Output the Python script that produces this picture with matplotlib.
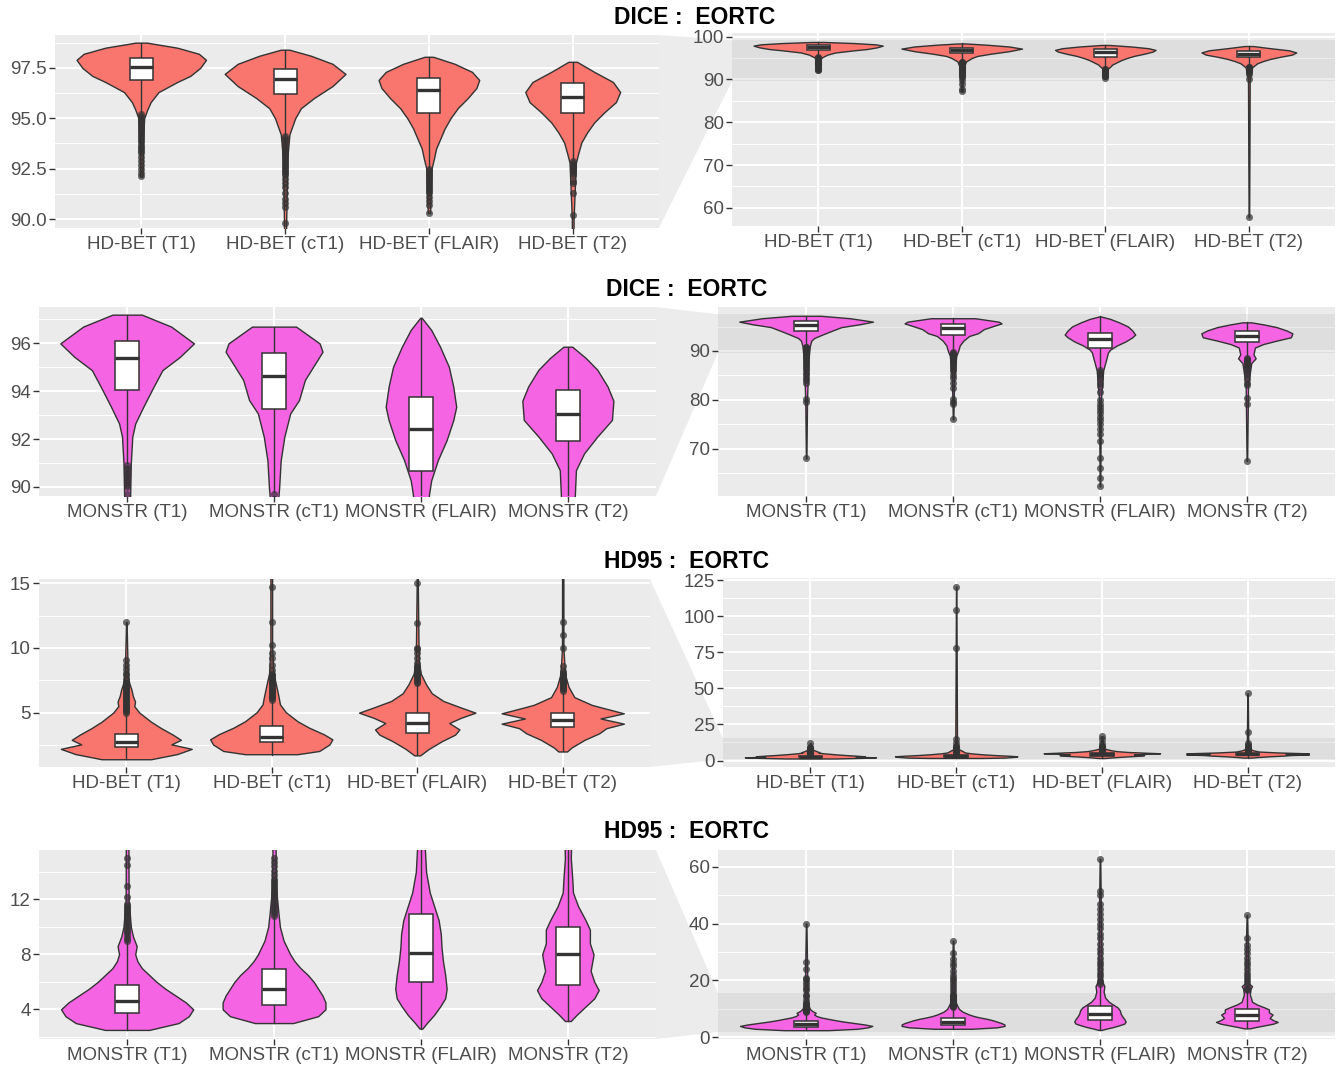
import numpy as np
import matplotlib
matplotlib.use("Agg")
import matplotlib.pyplot as plt
from matplotlib.patches import Polygon, Rectangle

plt.rcParams['font.family'] = ['Liberation Sans', 'DejaVu Sans']

# ---------------- DATA ----------------
titles = ["DICE :  EORTC", "DICE :  EORTC", "HD95 :  EORTC", "HD95 :  EORTC"]
cats_hdbet = ["HD-BET (T1)", "HD-BET (cT1)", "HD-BET (FLAIR)", "HD-BET (T2)"]
cats_monstr = ["MONSTR (T1)", "MONSTR (cT1)", "MONSTR (FLAIR)", "MONSTR (T2)"]
color_hdbet = "#F8766D"
color_monstr = "#F564E3"

# Row 1: HD-BET DICE --- violin outlines (value levels, half widths)
dice_hdbet_vy = [
    [92.1, 94.0, 95.0, 95.4, 95.8, 96.3, 96.8, 97.1, 97.5, 97.9, 98.2, 98.5, 98.75],
    [87.2, 90.0, 93.0, 94.2, 94.5, 95.0, 95.5, 96.0, 96.6, 97.2, 97.7, 98.1, 98.4],
    [90.3, 92.5, 93.0, 93.5, 94.0, 94.5, 95.0, 95.5, 96.0, 96.5, 96.9, 97.3, 97.7, 98.05],
    [57.8, 90.0, 92.8, 93.3, 93.8, 94.3, 94.8, 95.3, 95.8, 96.3, 96.8, 97.3, 97.8],
]
dice_hdbet_vw = [
    [0.008, 0.012, 0.02, 0.04, 0.065, 0.12, 0.25, 0.34, 0.41, 0.45, 0.40, 0.25, 0.04],
    [0.004, 0.008, 0.015, 0.03, 0.045, 0.07, 0.11, 0.2, 0.33, 0.42, 0.33, 0.18, 0.03],
    [0.008, 0.018, 0.035, 0.05, 0.08, 0.11, 0.15, 0.2, 0.27, 0.33, 0.35, 0.30, 0.18, 0.03],
    [0.002, 0.006, 0.022, 0.04, 0.06, 0.1, 0.15, 0.22, 0.30, 0.33, 0.28, 0.15, 0.03],
]
dice_hdbet_q1 = [96.9, 96.2, 95.25, 95.25]
dice_hdbet_med = [97.55, 96.95, 96.4, 96.05]
dice_hdbet_q3 = [98.0, 97.45, 97.0, 96.75]
dice_hdbet_wlo = [95.3, 94.2, 92.6, 93.0]
dice_hdbet_whi = [98.75, 98.4, 98.05, 97.8]
dice_hdbet_out = [
    [95.2, 95.1, 95.0, 94.9, 94.8, 94.7, 94.6, 94.5, 94.4, 94.3, 94.2, 94.1, 94.0, 93.9,
     93.8, 93.7, 93.6, 93.5, 93.4, 93.3, 93.1, 92.9, 92.7, 92.5, 92.3, 92.15],
    [94.1, 94.0, 93.9, 93.8, 93.7, 93.6, 93.5, 93.4, 93.3, 93.2, 93.1, 93.0, 92.9, 92.8,
     92.7, 92.6, 92.5, 92.4, 92.3, 92.2, 92.0, 91.8, 91.6, 91.3, 91.0, 90.8, 90.6, 89.8,
     89.0, 87.8, 87.3],
    [92.5, 92.4, 92.3, 92.2, 92.1, 92.0, 91.9, 91.8, 91.7, 91.6, 91.5, 91.4, 91.3, 91.1,
     90.9, 90.7, 90.3],
    [92.9, 92.8, 92.7, 92.6, 92.5, 92.4, 92.3, 92.2, 91.9, 91.8, 91.3, 90.2, 57.8],
]

# Row 2: MONSTR DICE
dice_monstr_vy = [
    [68.0, 80.0, 88.0, 91.0, 92.1, 92.65, 93.35, 94.19, 94.88, 95.44, 96.0, 96.7, 97.2],
    [76.0, 85.0, 89.0, 90.0, 91.1, 92.1, 93.07, 93.63, 94.47, 95.16, 95.65, 96.0, 96.7],
    [62.3, 80.0, 86.0, 88.0, 89.7, 90.28, 91.12, 91.96, 92.79, 93.35, 94.19, 95.02,
     95.86, 96.56, 97.07],
    [67.5, 83.0, 87.5, 88.5, 89.3, 90.0, 90.7, 91.4, 92.1, 92.8, 93.6, 94.2, 94.9, 95.4,
     95.86],
]
dice_monstr_vw = [
    [0.002, 0.006, 0.015, 0.025, 0.035, 0.055, 0.11, 0.18, 0.24, 0.36, 0.455, 0.30, 0.10],
    [0.002, 0.008, 0.022, 0.035, 0.045, 0.07, 0.11, 0.17, 0.21, 0.28, 0.33, 0.31, 0.15],
    [0.002, 0.006, 0.022, 0.04, 0.055, 0.07, 0.115, 0.175, 0.22, 0.24, 0.22, 0.19, 0.13,
     0.07, 0.005],
    [0.002, 0.008, 0.03, 0.06, 0.045, 0.05, 0.055, 0.11, 0.2, 0.30, 0.31, 0.27, 0.2, 0.12,
     0.03],
]
dice_monstr_q1 = [94.05, 93.25, 90.65, 91.9]
dice_monstr_med = [95.4, 94.65, 92.4, 93.05]
dice_monstr_q3 = [96.1, 95.6, 93.75, 94.05]
dice_monstr_wlo = [91.0, 89.8, 86.1, 88.7]
dice_monstr_whi = [97.2, 96.7, 97.07, 95.86]
dice_monstr_out = [
    [90.9, 90.8, 90.7, 90.6, 90.5, 90.4, 90.3, 90.2, 90.1, 90.0, 89.7, 89.4, 89.0, 88.6,
     88.2, 87.8, 87.4, 87.0, 86.5, 86.0, 85.5, 85.0, 84.5, 84.0, 83.5, 80.2, 79.6, 68.0],
    [89.7, 89.5, 89.3, 89.1, 88.9, 88.6, 88.3, 88.0, 87.6, 87.2, 86.8, 86.3, 85.8, 85.0,
     84.4, 83.5, 82.5, 80.2, 79.6, 79.2, 76.0],
    [86.0, 85.6, 85.2, 84.8, 84.2, 83.5, 82.8, 81.5, 80.0, 79.2, 78.6, 78.0, 77.2, 76.5,
     75.8, 75.0, 74.0, 73.0, 71.6, 68.0, 66.0, 64.0, 62.3],
    [88.6, 88.4, 88.2, 88.0, 87.8, 87.5, 87.2, 86.9, 86.5, 86.0, 85.5, 85.0, 84.2, 83.5,
     83.0, 80.3, 79.2, 67.5],
]

# Row 3: HD-BET HD95
hd95_hdbet_vy = [
    [1.4, 1.8, 2.2, 2.55, 2.9, 3.3, 3.8, 4.3, 5.0, 5.5, 5.85, 6.3, 6.8, 7.3, 8.0, 12.0],
    [1.75, 2.0, 2.5, 2.9, 3.3, 3.8, 4.3, 5.0, 5.6, 6.2, 7.0, 8.0, 10.0, 120.5],
    [1.7, 2.2, 2.8, 3.3, 3.7, 4.2, 4.6, 5.0, 5.4, 5.9, 6.5, 7.2, 8.0, 9.0, 16.8],
    [2.0, 2.3, 2.9, 3.4, 3.8, 4.15, 4.55, 4.95, 5.3, 5.6, 6.2, 7.0, 8.0, 10.0, 46.5],
]
hd95_hdbet_vw = [
    [0.17, 0.35, 0.45, 0.31, 0.375, 0.32, 0.24, 0.17, 0.09, 0.055, 0.06, 0.045, 0.035,
     0.02, 0.01, 0.002],
    [0.18, 0.33, 0.40, 0.42, 0.36, 0.26, 0.18, 0.10, 0.06, 0.05, 0.035, 0.015, 0.006,
     0.0015],
    [0.02, 0.08, 0.17, 0.26, 0.29, 0.22, 0.30, 0.40, 0.30, 0.18, 0.10, 0.06, 0.025, 0.01,
     0.002],
    [0.03, 0.06, 0.15, 0.25, 0.30, 0.42, 0.26, 0.42, 0.30, 0.2, 0.08, 0.04, 0.015, 0.005,
     0.0015],
]
hd95_hdbet_q1 = [2.35, 2.7, 3.45, 3.9]
hd95_hdbet_med = [2.75, 3.1, 4.23, 4.4]
hd95_hdbet_q3 = [3.35, 4.0, 5.0, 5.0]
hd95_hdbet_wlo = [1.4, 1.75, 1.7, 2.0]
hd95_hdbet_whi = [4.9, 5.95, 7.3, 6.65]
hd95_hdbet_out = [
    [5.0, 5.1, 5.2, 5.3, 5.4, 5.5, 5.6, 5.7, 5.8, 5.9, 6.0, 6.1, 6.2, 6.3, 6.4, 6.5, 6.6,
     6.7, 6.8, 6.9, 7.0, 7.1, 7.2, 7.3, 7.4, 7.6, 7.9, 8.1, 8.4, 8.7, 9.1, 12.0],
    [6.0, 6.1, 6.2, 6.3, 6.4, 6.5, 6.6, 6.7, 6.8, 6.9, 7.0, 7.1, 7.2, 7.3, 7.4, 7.5, 7.6,
     7.7, 7.8, 7.9, 8.0, 8.3, 8.7, 9.2, 9.6, 10.2, 12.0, 14.7, 78.0, 104.0, 120.5],
    [7.3, 7.4, 7.5, 7.6, 7.7, 7.8, 7.9, 8.0, 8.1, 8.2, 8.3, 8.4, 8.5, 8.6, 8.8, 9.2, 9.6,
     9.9, 10.0, 11.9, 15.0, 16.8],
    [6.7, 6.8, 6.9, 7.0, 7.1, 7.2, 7.3, 7.4, 7.5, 7.6, 7.7, 7.8, 7.9, 8.0, 8.1, 8.2, 8.6,
     10.0, 11.0, 12.0, 19.5, 46.5],
]

# Row 4: MONSTR HD95
hd95_monstr_vy = [
    [2.5, 3.0, 3.5, 4.0, 4.5, 5.0, 5.5, 6.0, 6.5, 7.0, 7.5, 8.0, 8.6, 9.3, 10.0, 12.0, 40.0],
    [3.0, 3.5, 4.0, 4.5, 5.0, 5.5, 6.0, 6.5, 7.0, 7.5, 8.0, 9.0, 10.0, 11.0, 13.0, 34.0],
    [2.6, 3.0, 3.6, 4.2, 4.8, 5.5, 6.5, 7.5, 8.5, 9.5, 10.5, 11.5, 12.5, 14.0, 16.0, 18.0,
     20.0, 62.8],
    [3.15, 3.6, 4.2, 4.8, 5.4, 6.0, 6.8, 7.4, 8.0, 8.8, 9.8, 10.5, 11.5, 12.5, 13.5, 15.0,
     17.0, 18.0, 19.0, 43.0],
]
hd95_monstr_vw = [
    [0.15, 0.35, 0.42, 0.45, 0.40, 0.33, 0.26, 0.20, 0.15, 0.10, 0.07, 0.055, 0.065, 0.04,
     0.025, 0.01, 0.002],
    [0.13, 0.30, 0.35, 0.35, 0.33, 0.30, 0.27, 0.23, 0.18, 0.14, 0.11, 0.065, 0.04, 0.03,
     0.012, 0.002],
    [0.01, 0.04, 0.09, 0.13, 0.165, 0.175, 0.165, 0.15, 0.14, 0.135, 0.12, 0.09, 0.06,
     0.035, 0.025, 0.03, 0.012, 0.002],
    [0.02, 0.06, 0.12, 0.18, 0.21, 0.18, 0.155, 0.165, 0.175, 0.15, 0.15, 0.12, 0.07,
     0.035, 0.03, 0.02, 0.025, 0.035, 0.012, 0.002],
]
hd95_monstr_q1 = [3.75, 4.35, 6.0, 5.8]
hd95_monstr_med = [4.6, 5.45, 8.1, 8.0]
hd95_monstr_q3 = [5.8, 6.9, 10.95, 10.0]
hd95_monstr_wlo = [2.5, 3.0, 2.6, 3.15]
hd95_monstr_whi = [8.9, 10.7, 18.3, 16.3]
hd95_monstr_out = [
    [9.0, 9.15, 9.3, 9.45, 9.6, 9.75, 9.9, 10.05, 10.2, 10.35, 10.5, 10.65, 10.8, 10.95,
     11.1, 11.25, 11.4, 11.55, 11.7, 12.2, 13.0, 14.5, 15.0, 16.5, 17.5, 18.5, 19.5, 20.5,
     21.0, 24.0, 26.5, 40.0],
    [10.8, 10.95, 11.1, 11.25, 11.4, 11.55, 11.7, 11.85, 12.0, 12.15, 12.3, 12.45, 12.6,
     12.75, 12.9, 13.05, 13.2, 13.35, 13.5, 13.8, 14.1, 14.4, 14.7, 15.0, 16.0, 17.0, 18.0,
     19.0, 20.0, 21.0, 22.0, 23.5, 25.0, 26.0, 27.5, 29.5, 34.0],
    [18.8, 19.5, 20.3, 21.5, 22.5, 24.0, 25.5, 26.5, 28.0, 29.5, 31.0, 33.0, 35.0, 36.5,
     38.5, 40.0, 41.5, 43.5, 45.0, 47.0, 50.0, 51.5, 62.8],
    [16.5, 17.0, 17.5, 18.5, 19.5, 20.5, 21.5, 22.5, 24.0, 25.5, 26.5, 28.0, 29.5, 31.0,
     32.5, 35.0, 43.0],
]

# ---------------- LAYOUT ----------------
W, H = 1341, 1067
fig = plt.figure(figsize=(W / 100, H / 100), dpi=100)
fig.patch.set_facecolor("white")

rows = [
    dict(cats=cats_hdbet, color=color_hdbet, vy=dice_hdbet_vy, vw=dice_hdbet_vw,
         q1=dice_hdbet_q1, med=dice_hdbet_med, q3=dice_hdbet_q3, wlo=dice_hdbet_wlo,
         whi=dice_hdbet_whi, out=dice_hdbet_out,
         L=(55, 659, 35, 228), R=(732, 1335, 33, 226), tx=695, ty=18,
         Llim=(89.56, 99.13), Rlim=(55.75, 100.85),
         Lmaj=[90, 92.5, 95, 97.5], Lfmt="{:.1f}", Rmaj=[60, 70, 80, 90, 100], Rfmt="{:.0f}"),
    dict(cats=cats_monstr, color=color_monstr, vy=dice_monstr_vy, vw=dice_monstr_vw,
         q1=dice_monstr_q1, med=dice_monstr_med, q3=dice_monstr_q3, wlo=dice_monstr_wlo,
         whi=dice_monstr_whi, out=dice_monstr_out,
         L=(39, 656, 307, 496), R=(718, 1335, 307, 496), tx=687, ty=290,
         Llim=(89.62, 97.52), Rlim=(60.3, 99.0),
         Lmaj=[90, 92, 94, 96], Lfmt="{:.0f}", Rmaj=[70, 80, 90], Rfmt="{:.0f}"),
    dict(cats=cats_hdbet, color=color_hdbet, vy=hd95_hdbet_vy, vw=hd95_hdbet_vw,
         q1=hd95_hdbet_q1, med=hd95_hdbet_med, q3=hd95_hdbet_q3, wlo=hd95_hdbet_wlo,
         whi=hd95_hdbet_whi, out=hd95_hdbet_out,
         L=(39, 650, 579, 767), R=(723, 1335, 578, 767), tx=686, ty=561,
         Llim=(0.8, 15.33), Rlim=(-4.5, 126.4),
         Lmaj=[5, 10, 15], Lfmt="{:.0f}", Rmaj=[0, 25, 50, 75, 100, 125], Rfmt="{:.0f}"),
    dict(cats=cats_monstr, color=color_monstr, vy=hd95_monstr_vy, vw=hd95_monstr_vw,
         q1=hd95_monstr_q1, med=hd95_monstr_med, q3=hd95_monstr_q3, wlo=hd95_monstr_wlo,
         whi=hd95_monstr_whi, out=hd95_monstr_out,
         L=(39, 656, 850, 1039), R=(718, 1335, 850, 1039), tx=686, ty=832,
         Llim=(1.84, 15.6), Rlim=(-0.6, 65.9),
         Lmaj=[4, 8, 12], Lfmt="{:.0f}", Rmaj=[0, 20, 40, 60], Rfmt="{:.0f}"),
]

EDGE = "#333333"
TXT = "#4D4D4D"
ZOOM_FILL = "#BEBEBE"
BAND_ALPHA = 0.28


def make_ax(box):
    x0, x1, top, bot = box
    return fig.add_axes([x0 / W, 1 - bot / H, (x1 - x0) / W, (bot - top) / H])


def style_ax(ax, lim, majors, fmt, cats):
    ax.set_facecolor("#EBEBEB")
    for s in ax.spines.values():
        s.set_visible(False)
    ax.set_xticks(np.arange(1, len(cats) + 1))
    ax.set_xticklabels(cats)
    ax.set_yticks(majors)
    ax.set_yticklabels([fmt.format(v) for v in majors])
    step = majors[1] - majors[0]
    minors = [m + step / 2 for m in [majors[0] - step] + list(majors)]
    minors = [m for m in minors if lim[0] <= m <= lim[1]]
    ax.set_yticks(minors, minor=True)
    # limits after ticks (set_yticks may widen the view)
    ax.set_xlim(0.4, len(cats) + 0.6)
    ax.set_ylim(*lim)
    ax.tick_params(axis="both", which="major", length=4, width=1.0, color=EDGE,
                   labelcolor=TXT, labelsize=13.5, pad=2)
    ax.tick_params(axis="y", which="minor", length=0)
    ax.set_axisbelow(True)
    ax.grid(True, which="major", axis="both", color="white", lw=1.4)
    ax.grid(True, which="minor", axis="y", color="white", lw=0.7)


def draw_row(ax, r):
    for i in range(len(r["cats"])):
        c = i + 1
        ys = np.asarray(r["vy"][i])
        ws = np.asarray(r["vw"][i])
        ax.fill_betweenx(ys, c - ws, c + ws, facecolor=r["color"], edgecolor=EDGE,
                         lw=1.0, zorder=2)
        ax.plot([c, c], [r["wlo"][i], r["q1"][i]], color=EDGE, lw=1.0, zorder=3)
        ax.plot([c, c], [r["q3"][i], r["whi"][i]], color=EDGE, lw=1.0, zorder=3)
        ax.scatter(np.full(len(r["out"][i]), c), r["out"][i], s=26, color=EDGE,
                   alpha=0.7, lw=0, zorder=3)
        ax.add_patch(Rectangle((c - 0.08, r["q1"][i]), 0.16, r["q3"][i] - r["q1"][i],
                               facecolor="white", edgecolor=EDGE, lw=1.1, zorder=4))
        ax.plot([c - 0.08, c + 0.08], [r["med"][i]] * 2, color=EDGE, lw=2.4,
                solid_capstyle="butt", zorder=5)


for k, r in enumerate(rows):
    axL = make_ax(r["L"])
    axR = make_ax(r["R"])
    style_ax(axL, r["Llim"], r["Lmaj"], r["Lfmt"], r["cats"])
    style_ax(axR, r["Rlim"], r["Rmaj"], r["Rfmt"], r["cats"])
    draw_row(axL, r)
    draw_row(axR, r)
    axL.set_ylim(*r["Llim"])
    axR.set_ylim(*r["Rlim"])
    # zoom band in the full-range panel
    axR.axhspan(r["Llim"][0], r["Llim"][1], color=ZOOM_FILL, alpha=BAND_ALPHA, lw=0,
                zorder=0.8)
    # connector trapezoid between the two panels
    inv = fig.transFigure.inverted()
    lo = max(r["Llim"][0], r["Rlim"][0])
    hi = min(r["Llim"][1], r["Rlim"][1])
    p_top = inv.transform(axR.transData.transform((0.4, hi)))
    p_bot = inv.transform(axR.transData.transform((0.4, lo)))
    x0, x1, top, bot = r["L"]
    poly = Polygon([(x1 / W, 1 - top / H), (p_top[0], p_top[1]),
                    (p_bot[0], p_bot[1]), (x1 / W, 1 - bot / H)],
                   closed=True, transform=fig.transFigure, facecolor=ZOOM_FILL,
                   alpha=BAND_ALPHA, lw=0, zorder=-1)
    fig.patches.append(poly)
    fig.text(r["tx"] / W, 1 - r["ty"] / H, titles[k], ha="center",
             va="center", fontsize=16.5, fontweight="bold", color="black")

fig.savefig("out.png", dpi=100, facecolor="white")
